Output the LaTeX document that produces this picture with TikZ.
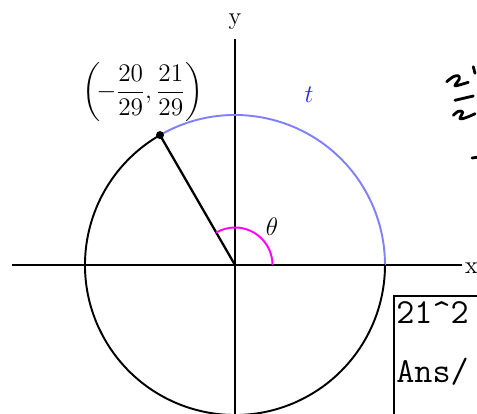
\documentclass[tikz,border=0pt]{standalone}
\usepackage{amsmath,amssymb}
\usepackage{tikz}
\usetikzlibrary{arrows.meta,calc}

\definecolor{arcblue}{RGB}{128,128,255}
\definecolor{tblue}{RGB}{40,40,230}
\definecolor{anglemag}{RGB}{255,0,255}

\begin{document}
\begin{tikzpicture}[x=0.02cm,y=0.02cm,>=Stealth,font=\fontsize{14}{17}\selectfont,
  axis/.style={line width=0.6pt},
  ink/.style={line width=1.6pt,line cap=round,line join=round},
  calc/.style={anchor=base west,inner sep=0pt,font=\fontsize{20}{24}\selectfont\ttfamily}]
  \useasboundingbox (-235,-148) rectangle (242,265);
  \clip (-235,-148) rectangle (242,265);
  \coordinate (O) at (0,0);
  \coordinate (A) at (150,0);
  \coordinate (P) at (120:150);
  % axes
  \draw[axis] (-223,0) -- (227,0);
  \draw[axis] (0,-150) -- (0,226);
  \node[anchor=west,inner sep=0.5pt] (xl) at (229,-3) {x};
  \node (yl) at (0,243) {y};
  % circle
  \draw[line width=1.1pt] (P) arc (120:360:150);
  \draw[arcblue,line width=1.1pt] (P) arc (120:0:150);
  \draw[line width=1.3pt] (O) -- (P);
  \draw[line width=1.3pt] (O) -- (A);
  \draw[anglemag,line width=1.1pt] (37.5,0) arc (0:120:37.5);
  \fill (P) circle (4);
  \node (th) at (37,38) {$\theta$};
  \node[tblue] (tl) at (74,170) {$t$};
  \node (pl) at (-92,173) {$\left(\!{-}\dfrac{20}{29},\dfrac{21}{29}\right)$};
  % calculator screen
  \draw[line width=1pt] (159,-160) -- (159,-31) -- (260,-31);
  \node[calc] (c1) at (161,-58) {21\^{}2};
  \node[calc] (c2) at (161,-117) {Ans/};
  % handwriting
  \draw[ink] plot[smooth] coordinates {(211.7,183.3) (218.3,188.3) (223.3,189.3) (224.3,186) (220,179.3) (226.7,180.7) (233.3,182.7)};
  \draw[ink] (238.3,198.3) -- (240,191.7);
  \draw[ink] (220,164.7) -- (238.3,169);
  \draw[ink] plot[smooth] coordinates {(218.3,149.7) (223.3,153.7) (227.7,153) (225,146.3) (230,147) (236.7,149.7) (240,151.3)};
  \draw[ink] (237,107) -- (244,108);
\end{tikzpicture}
\end{document}
